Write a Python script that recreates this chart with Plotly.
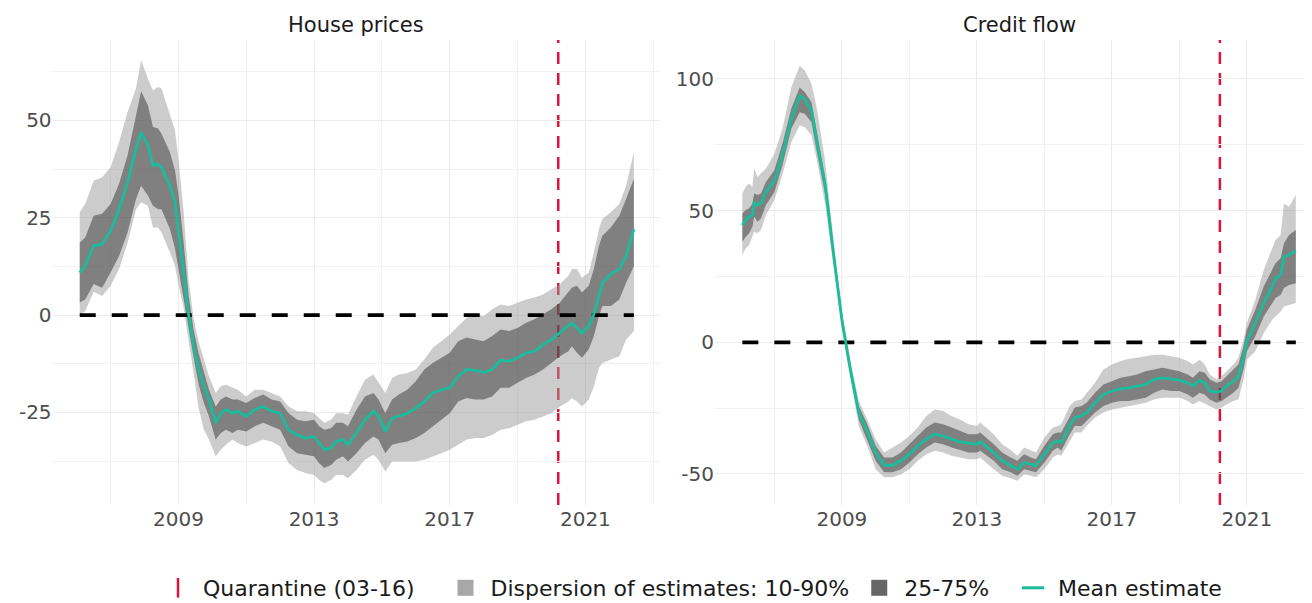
import plotly.graph_objects as go

# House prices panel: year, mean and dispersion bands
hp_year = [2006.09, 2006.25, 2006.5, 2006.75, 2007.0, 2007.25, 2007.5, 2007.75, 2007.9, 2008.1,
           2008.25, 2008.4, 2008.5, 2008.75, 2008.9, 2009.0, 2009.15, 2009.3, 2009.45, 2009.6,
           2009.75, 2009.9, 2010.1, 2010.25, 2010.4, 2010.6, 2010.75, 2011.0, 2011.25, 2011.5,
           2011.75, 2012.0, 2012.25, 2012.5, 2012.75, 2013.0, 2013.15, 2013.3, 2013.5, 2013.65,
           2013.85, 2014.0, 2014.25, 2014.5, 2014.75, 2014.9, 2015.1, 2015.3, 2015.5, 2015.75,
           2016.0, 2016.25, 2016.5, 2016.75, 2017.0, 2017.25, 2017.5, 2017.75, 2018.0, 2018.25,
           2018.5, 2018.75, 2019.0, 2019.25, 2019.5, 2019.75, 2020.0, 2020.25, 2020.5, 2020.6,
           2020.75, 2020.9, 2021.1, 2021.25, 2021.4, 2021.5, 2021.75, 2022.0, 2022.2, 2022.43]
hp_mean = [10.9, 12.6, 17.8, 18.2, 21.6, 27.2, 34.1, 42.7, 47.0, 43.6,
           38.4, 38.8, 38.0, 33.2, 29.0, 22.0, 11.0, 0.0, -8.0, -14.0,
           -18.3, -21.7, -27.7, -25.2, -24.3, -25.2, -24.7, -26.0, -24.3, -23.5,
           -24.7, -25.2, -29.5, -30.8, -31.6, -31.2, -32.9, -34.6, -34.2, -32.5,
           -32.0, -33.3, -30.3, -26.9, -24.7, -26.0, -29.9, -26.5, -26.0, -25.2,
           -23.9, -22.2, -20.0, -19.2, -18.7, -15.7, -14.0, -14.2, -14.7, -14.0,
           -11.6, -11.9, -11.0, -9.7, -9.3, -7.6, -6.3, -4.6, -2.8, -2.0,
           -3.3, -4.6, -2.8, 0.2, 4.9, 8.3, 10.5, 11.8, 15.2, 22.1]
hp_p10 = [0.0, 1.0, 6.0, 4.9, 7.5, 11.8, 18.6, 27.2, 29.0, 28.1,
          22.5, 22.5, 21.2, 16.1, 12.6, 8.0, 2.0, -7.0, -15.0, -24.0,
          -29.5, -32.0, -36.3, -34.6, -33.3, -32.0, -32.9, -33.8, -32.9, -32.0,
          -32.5, -33.8, -38.1, -39.8, -40.6, -41.1, -42.4, -43.2, -42.4, -41.1,
          -41.1, -41.9, -39.8, -37.2, -35.9, -37.2, -40.2, -37.6, -37.6, -37.6,
          -37.6, -37.2, -36.3, -35.5, -34.6, -33.3, -32.0, -31.6, -31.6, -30.8,
          -29.5, -29.1, -28.2, -27.3, -26.9, -26.0, -25.2, -23.5, -22.2, -21.3,
          -22.2, -23.5, -21.7, -18.3, -13.6, -12.3, -11.4, -10.6, -6.3, -4.1]
hp_p25 = [3.2, 4.0, 8.0, 7.0, 10.9, 15.2, 21.2, 29.8, 33.2, 30.7,
          28.1, 27.2, 27.2, 22.1, 17.0, 12.0, 5.0, -3.0, -11.0, -18.0,
          -22.6, -26.0, -32.0, -30.3, -29.5, -30.3, -29.5, -29.9, -28.6, -27.7,
          -28.6, -29.5, -33.8, -35.5, -35.9, -36.3, -38.1, -39.3, -38.5, -37.2,
          -36.3, -37.6, -35.5, -32.9, -31.2, -32.0, -35.5, -33.3, -32.9, -32.5,
          -31.6, -30.3, -28.6, -26.9, -25.2, -22.2, -21.3, -21.7, -21.7, -20.9,
          -18.7, -18.7, -17.4, -16.2, -15.3, -14.0, -12.3, -10.6, -9.3, -8.0,
          -9.7, -11.0, -8.8, -5.4, -0.3, 2.3, 2.3, 4.0, 8.3, 12.6]
hp_p75 = [18.6, 19.9, 25.5, 26.0, 28.5, 33.7, 41.0, 51.3, 57.5, 53.9,
          48.3, 47.9, 46.6, 41.8, 37.1, 31.0, 19.0, 5.0, -4.0, -10.0,
          -14.9, -19.2, -23.5, -21.7, -20.9, -21.7, -21.7, -22.6, -21.3, -20.4,
          -21.7, -22.2, -25.2, -26.9, -27.3, -26.9, -28.6, -29.5, -29.1, -27.7,
          -27.7, -28.6, -24.3, -20.9, -20.0, -21.7, -25.2, -21.7, -20.4, -19.2,
          -17.0, -14.0, -12.3, -11.0, -9.7, -6.7, -5.8, -6.3, -6.7, -5.4,
          -3.7, -4.1, -3.3, -2.0, -1.1, 0.2, 1.5, 3.2, 5.8, 7.0,
          7.5, 5.8, 7.5, 11.8, 17.8, 20.4, 22.5, 25.5, 29.8, 35.0]
hp_p90 = [26.4, 28.5, 34.5, 35.4, 38.0, 44.4, 52.1, 58.2, 65.5, 60.7,
          57.7, 58.6, 58.2, 51.3, 47.4, 40.0, 27.0, 9.0, -1.0, -7.0,
          -11.4, -15.7, -20.0, -18.3, -17.9, -18.7, -19.2, -20.9, -19.2, -19.2,
          -20.0, -20.9, -23.5, -24.7, -24.7, -25.2, -26.5, -27.7, -26.9, -25.2,
          -25.2, -25.6, -20.9, -16.6, -15.3, -17.4, -20.0, -16.2, -15.3, -14.9,
          -14.0, -11.4, -8.4, -6.7, -5.0, -2.8, -0.7, 0.2, -0.3, 1.5,
          2.7, 2.3, 3.2, 4.0, 4.5, 5.3, 6.6, 7.9, 10.1, 11.8,
          11.8, 9.6, 10.9, 16.1, 22.1, 24.7, 26.4, 28.5, 33.2, 41.8]

# Credit flow panel
cf_year = [2006.05, 2006.15, 2006.25, 2006.35, 2006.4, 2006.5, 2006.6, 2006.75, 2007.0, 2007.25,
           2007.5, 2007.75, 2007.9, 2008.1, 2008.25, 2008.5, 2008.75, 2009.0, 2009.25, 2009.5,
           2009.75, 2010.0, 2010.25, 2010.5, 2010.75, 2011.0, 2011.25, 2011.5, 2011.75, 2012.0,
           2012.25, 2012.5, 2012.75, 2013.0, 2013.1, 2013.5, 2013.75, 2014.0, 2014.2, 2014.4,
           2014.6, 2014.75, 2015.0, 2015.25, 2015.4, 2015.5, 2015.75, 2015.9, 2016.1, 2016.25,
           2016.5, 2016.75, 2017.0, 2017.25, 2017.5, 2017.75, 2018.0, 2018.25, 2018.5, 2018.75,
           2019.0, 2019.25, 2019.4, 2019.6, 2019.75, 2019.9, 2020.1, 2020.25, 2020.4, 2020.6,
           2020.75, 2020.9, 2021.0, 2021.25, 2021.5, 2021.75, 2021.85, 2022.0, 2022.1, 2022.25,
           2022.45]
cf_mean = [44.5, 46.4, 47.7, 48.3, 53.3, 52.1, 52.7, 57.1, 61.5, 71.6,
           84.9, 93.7, 92.4, 88.0, 76.7, 60.3, 33.8, 8.6, -10.3, -26.7,
           -33.7, -41.9, -46.7, -46.7, -45.0, -42.5, -39.3, -36.8, -34.9, -35.6,
           -36.8, -37.8, -38.3, -38.7, -37.8, -41.9, -45.0, -46.9, -48.2, -45.7,
           -46.3, -46.9, -42.5, -38.1, -37.5, -38.1, -31.8, -28.6, -28.0, -26.7,
           -23.0, -19.8, -18.5, -17.7, -17.3, -16.6, -16.0, -14.1, -13.5, -13.9,
           -14.4, -15.4, -16.6, -14.4, -15.4, -18.5, -18.9, -18.5, -16.6, -14.8,
           -12.9, -5.9, 0.4, 7.3, 14.9, 21.2, 24.3, 25.6, 32.5, 33.2,
           34.8]
cf_p10 = [33.2, 35.7, 36.9, 40.1, 42.0, 41.4, 42.6, 48.3, 54.0, 64.1,
          76.0, 82.3, 81.7, 78.6, 69.7, 52.7, 28.8, 4.8, -14.1, -31.8,
          -39.3, -48.2, -51.3, -51.3, -50.1, -48.2, -45.0, -42.5, -41.2, -41.9,
          -43.1, -43.8, -44.4, -44.4, -43.8, -48.2, -50.7, -51.6, -52.6, -50.1,
          -50.7, -51.3, -48.2, -43.8, -42.5, -43.1, -37.5, -34.3, -34.3, -31.8,
          -28.6, -26.7, -25.5, -24.8, -24.2, -23.6, -23.0, -21.7, -21.1, -21.1,
          -21.1, -22.3, -23.6, -22.3, -23.0, -24.2, -25.5, -24.8, -23.6, -22.3,
          -21.7, -14.1, -6.6, -3.4, 3.5, 8.6, 9.8, 11.7, 13.6, 14.2,
          14.9]
cf_p25 = [38.2, 40.1, 41.4, 43.9, 47.7, 45.8, 47.0, 52.1, 57.1, 67.8,
          81.1, 87.4, 86.8, 83.6, 72.9, 56.5, 31.3, 6.7, -12.2, -29.3,
          -36.8, -45.0, -49.4, -49.4, -48.2, -45.7, -42.5, -40.0, -38.1, -38.7,
          -40.0, -40.9, -41.9, -41.9, -41.2, -45.0, -48.2, -49.4, -50.7, -48.2,
          -48.8, -49.4, -45.7, -41.2, -40.0, -41.2, -34.9, -31.8, -31.8, -29.9,
          -26.7, -24.2, -23.0, -22.3, -22.3, -21.7, -21.1, -19.2, -17.9, -18.5,
          -18.5, -19.8, -21.1, -19.2, -19.8, -21.7, -23.0, -22.3, -21.1, -19.2,
          -17.3, -10.3, -3.4, 2.3, 9.8, 14.9, 16.8, 18.0, 20.6, 21.8,
          22.4]
cf_p75 = [48.9, 50.2, 50.8, 52.7, 56.5, 55.9, 56.5, 60.9, 65.3, 76.0,
          88.7, 96.8, 95.0, 91.2, 80.5, 62.8, 35.7, 9.8, -8.4, -24.2,
          -31.1, -39.3, -43.8, -43.8, -41.9, -38.7, -35.6, -32.4, -30.5, -31.1,
          -32.4, -33.7, -34.9, -34.9, -34.3, -38.7, -41.9, -43.8, -45.0, -42.5,
          -43.8, -44.4, -39.3, -34.9, -34.3, -34.3, -28.0, -24.8, -24.2, -23.0,
          -19.2, -16.0, -14.8, -13.5, -12.9, -12.2, -11.0, -10.3, -9.7, -10.3,
          -11.0, -12.2, -13.5, -11.0, -11.6, -14.1, -15.4, -14.8, -12.9, -10.3,
          -8.4, -1.5, 4.8, 12.4, 21.2, 27.5, 30.0, 31.9, 37.6, 40.7,
          42.6]
cf_p90 = [56.5, 59.0, 60.3, 59.0, 66.0, 62.8, 64.1, 66.0, 71.6, 81.7,
          96.8, 105.0, 103.2, 98.1, 89.3, 69.1, 38.8, 11.7, -6.6, -22.3,
          -29.3, -36.8, -41.9, -40.0, -38.1, -35.6, -32.4, -28.0, -25.5, -26.1,
          -28.0, -29.3, -31.1, -31.8, -30.5, -34.9, -38.7, -40.9, -43.1, -40.0,
          -41.2, -41.9, -36.2, -32.4, -31.8, -31.1, -24.2, -22.3, -21.7, -19.2,
          -15.4, -10.3, -8.4, -7.2, -6.3, -5.9, -5.3, -4.7, -4.7, -5.3,
          -5.9, -7.2, -8.4, -6.6, -8.4, -12.2, -14.1, -12.9, -11.0, -8.4,
          -5.9, 1.0, 7.3, 16.1, 27.5, 35.1, 38.8, 40.7, 52.7, 51.5,
          55.9]

quarantine_date = 2020.2
panel_titles = ["House prices", "Credit flow"]
x_ticks = [2009, 2013, 2017, 2021]
hp_yticks = [-25, 0, 25, 50]
cf_yticks = [-50, 0, 50, 100]
legend_names = ["Quarantine (03-16)", "Dispersion of estimates: 10-90%", "25-75%", "Mean estimate"]

LIGHT = "rgba(153,153,153,0.5)"
DARK = "rgba(51,51,51,0.5)"
TEAL = "#1abc9c"
RED = "#dc143c"
FONT = "Verdana, DejaVu Sans, sans-serif"

fig = go.Figure()


def add_panel(year, mean, p10, p25, p75, p90, xa, ya):
    fig.add_trace(go.Scatter(
        x=year + year[::-1], y=p90 + p10[::-1], fill="toself",
        fillcolor=LIGHT, line=dict(width=0), mode="lines",
        hoverinfo="skip", showlegend=False, xaxis=xa, yaxis=ya))
    fig.add_trace(go.Scatter(
        x=year + year[::-1], y=p75 + p25[::-1], fill="toself",
        fillcolor=DARK, line=dict(width=0), mode="lines",
        hoverinfo="skip", showlegend=False, xaxis=xa, yaxis=ya))
    fig.add_trace(go.Scatter(
        x=[year[0], year[-1]], y=[0, 0], mode="lines",
        line=dict(color="black", width=3.8, dash="16px,16px"),
        hoverinfo="skip", showlegend=False, xaxis=xa, yaxis=ya))
    fig.add_trace(go.Scatter(
        x=year, y=mean, mode="lines", line=dict(color=TEAL, width=2.8),
        showlegend=False, xaxis=xa, yaxis=ya))
    fig.add_shape(type="line", x0=quarantine_date, x1=quarantine_date,
                  xref=xa, yref=ya + " domain", y0=0, y1=1, layer="below",
                  line=dict(color=RED, width=2.5, dash="12px,9px"))


add_panel(hp_year, hp_mean, hp_p10, hp_p25, hp_p75, hp_p90, "x", "y")
add_panel(cf_year, cf_mean, cf_p10, cf_p25, cf_p75, cf_p90, "x2", "y2")

# legend entries (non-breaking spaces widen the gap after some entries)
nb = "\u00a0"
fig.add_trace(go.Scatter(x=[None], y=[None], mode="markers", name=legend_names[0] + nb * 3,
                         marker=dict(symbol="line-ns", size=14, line=dict(color=RED, width=2.5))))
fig.add_trace(go.Scatter(x=[None], y=[None], mode="markers", name=legend_names[1],
                         marker=dict(symbol="square", size=16, color="#a8a8a8")))
fig.add_trace(go.Scatter(x=[None], y=[None], mode="markers", name=legend_names[2] + nb * 2,
                         marker=dict(symbol="square", size=16, color="#666666")))
fig.add_trace(go.Scatter(x=[None], y=[None], mode="markers", name=legend_names[3],
                         marker=dict(symbol="line-ew", size=16, line=dict(color=TEAL, width=3))))

# the page body has an 8px margin, so positions below are page pixels minus 8
W, H = 1304, 595
ydom = [1 - 497 / H, 1 - 32 / H]
xdom1 = [44.6 / W, 652 / W]
xdom2 = [707 / W, 1.0]

grid = dict(showgrid=True, gridcolor="#ebebeb", gridwidth=1, zeroline=False,
            showline=False, ticks="", tickfont=dict(size=20, color="#4d4d4d"))
minor_x = dict(dtick=2, tick0=2007, showgrid=True, gridcolor="#f1f1f1", gridwidth=1)

fig.update_layout(
    width=W, height=H,
    margin=dict(l=0, r=0, t=0, b=0, autoexpand=False),
    plot_bgcolor="white", paper_bgcolor="white",
    font=dict(family=FONT, color="#1a1a1a"),
    xaxis=dict(domain=xdom1, range=[2005.29, 2023.2], tickvals=x_ticks, anchor="y",
               minor=minor_x, **grid),
    yaxis=dict(domain=ydom, range=[-48.8, 70.66], tickvals=hp_yticks,
               ticktext=[str(v) for v in hp_yticks], anchor="x",
               minor=dict(dtick=12.5, tick0=0, showgrid=True, gridcolor="#f1f1f1", gridwidth=1),
               **grid),
    xaxis2=dict(domain=xdom2, range=[2005.24, 2022.93], tickvals=x_ticks, anchor="y2",
                minor=minor_x, **grid),
    yaxis2=dict(domain=ydom, range=[-61.8, 114.8], tickvals=cf_yticks,
                ticktext=[str(v) for v in cf_yticks], anchor="x2",
                minor=dict(dtick=25, tick0=0, showgrid=True, gridcolor="#f1f1f1", gridwidth=1),
                **grid),
    legend=dict(orientation="h", x=145 / W, xanchor="left", y=(H - 580) / H, yanchor="middle",
                font=dict(size=22, color="#1a1a1a"), bgcolor="rgba(0,0,0,0)",
                itemwidth=40),
    showlegend=True,
)

for title, dom in zip(panel_titles, [xdom1, [707 / W, 1315 / W]]):
    fig.add_annotation(text=title, x=(dom[0] + dom[1]) / 2, y=1 - 17 / H,
                       xref="paper", yref="paper", showarrow=False,
                       xanchor="center", yanchor="middle",
                       font=dict(size=21, color="#1a1a1a"))

fig.write_html("out.html")
